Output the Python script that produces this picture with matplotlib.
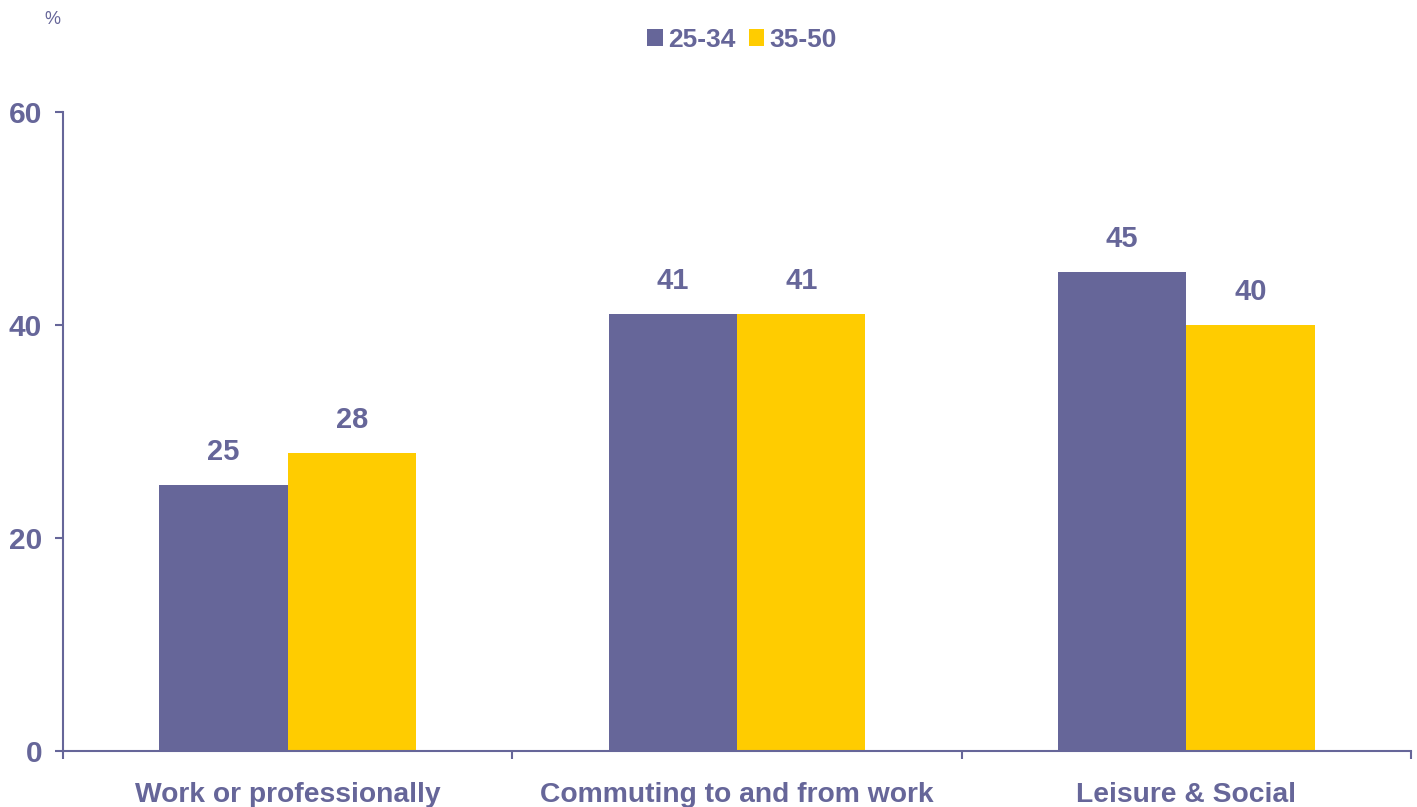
import numpy as np
import matplotlib
matplotlib.use("Agg")
import matplotlib.pyplot as plt

# survey shares by age group
categories = ["Work or professionally", "Commuting to and from work", "Leisure & Social"]
age_25_34 = [25, 41, 45]
age_35_50 = [28, 41, 40]
series_names = ["25-34", "35-50"]

purple = "#666699"
yellow = "#FFCC00"

plt.rcParams["font.family"] = ["Liberation Sans", "DejaVu Sans"]

fig = plt.figure(figsize=(14.17, 8.07), dpi=100)
ax = fig.add_axes([0.0445, 0.0694, 0.9513, 0.7918])

x = np.arange(len(categories))
w = 0.2857
b1 = ax.bar(x - w / 2, age_25_34, w, color=purple, label=series_names[0])
b2 = ax.bar(x + w / 2, age_35_50, w, color=yellow, label=series_names[1])

for bars, vals in [(b1, age_25_34), (b2, age_35_50)]:
    for rect, v in zip(bars, vals):
        ax.annotate(str(v), (rect.get_x() + rect.get_width() / 2, v),
                    xytext=(0, 19), textcoords="offset pixels",
                    ha="center", va="bottom", fontsize=21,
                    fontweight="bold", color=purple)

ax.set_xlim(-0.5, 2.5)
ax.set_ylim(0, 60)
ax.set_yticks([0, 20, 40, 60])
ax.tick_params(axis="y", colors=purple, labelsize=21.5, length=6, width=1.5, pad=9)
for lab in ax.get_yticklabels():
    lab.set_fontweight("bold")

# category names at centres, tick marks at boundaries
ax.set_xticks(x)
ax.set_xticklabels(categories, fontsize=20.3, fontweight="bold", color=purple)
ax.tick_params(axis="x", which="major", length=0, pad=22)
ax.set_xticks([-0.5, 0.5, 1.5, 2.5], minor=True)
ax.tick_params(axis="x", which="minor", length=6, width=1.5, color=purple)

for side in ["top", "right"]:
    ax.spines[side].set_visible(False)
for side in ["left", "bottom"]:
    ax.spines[side].set_color(purple)
    ax.spines[side].set_linewidth(1.5)

fig.text(52 / 1417, 1 - 20 / 807, "%", fontsize=13, color=purple,
         ha="center", va="center")

leg = fig.legend(loc="center", bbox_to_anchor=(742 / 1417, 1 - 40 / 807),
                 ncol=2, frameon=False, handlelength=0.6, handleheight=0.6,
                 handletextpad=0.2, columnspacing=0.5,
                 prop={"size": 19, "weight": "bold"})
for t in leg.get_texts():
    t.set_color(purple)

fig.savefig("out.png", dpi=100)
